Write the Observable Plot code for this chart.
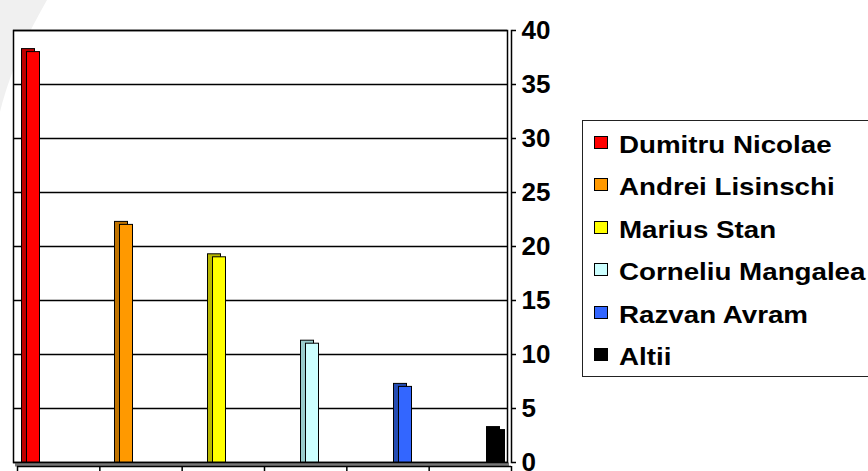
<!DOCTYPE html>
<html><head><meta charset="utf-8">
<script src="https://cdn.jsdelivr.net/npm/d3@7"></script>
<script src="https://cdn.jsdelivr.net/npm/@observablehq/plot@0.6"></script>
<style>
html,body{margin:0;padding:0;background:#fff;overflow:hidden;}
#wrap{position:relative;width:868px;height:471px;overflow:hidden;font-family:'Liberation Sans',Arial,sans-serif;}
#bg{position:absolute;left:0;top:0;width:120px;height:160px;background:#f0f0f0;clip-path:path('M0,0 L47,0 C30,30 12,65 0,112 Z');}
#legend{position:absolute;left:582px;top:120px;width:320px;height:257px;border:1.5px solid #222;background:#fff;box-sizing:border-box;padding-top:3px;}
.row{position:relative;height:42.4px;line-height:42.4px;font-size:24px;font-weight:bold;color:#000;white-space:nowrap;}
.sw{position:absolute;left:11px;top:12px;width:12px;height:11px;border:1px solid #000;}
.lbl{position:absolute;left:36px;top:0;display:inline-block;transform:scaleX(1.155);transform-origin:0 50%;}
</style></head>
<body>
<div id="wrap"><div id="bg"></div></div>
<script>
const names = ["Dumitru Nicolae","Andrei Lisinschi","Marius Stan","Corneliu Mangalea","Razvan Avram","Altii"];
const values = [38,22,19,11,7,3];
const colors = ["#ff0000","#ff9900","#ffff00","#ccffff","#3366ff","#000000"];
const sideColors = ["#c00000","#c07300","#b8b800","#99cccc","#264db3","#000000"];
const yTicks = [0,5,10,15,20,25,30,35,40];

const data = names.map((n,i)=>({name:n, value:values[i], color:colors[i], side:sideColors[i]}));
const font = "'Liberation Sans', Arial, sans-serif";

const main = Plot.plot({
  width: 868, height: 471,
  marginLeft: 13, marginRight: 361, marginTop: 30, marginBottom: 9,
  x: {domain: names, range: [-16.5, 542], padding: 0, axis: null},
  y: {domain: [0, 40], axis: null},
  style: {position:"absolute", left:"0px", top:"0px", background:"transparent", fontFamily: font, fontSize:"26px", fontWeight:"bold", color:"#000"},
  marks: [
    Plot.frame({fill:"#fff", stroke:null}),
    Plot.ruleY(yTicks, {stroke:"#000", strokeWidth:1.5}),
    Plot.ruleY([0], {stroke:"#777", strokeWidth:4, dy:2, dx:2}),
    Plot.ruleY([0], {stroke:"#000", strokeWidth:1.5, dy:4, dx:4}),
    Plot.frame({stroke:"#000", strokeWidth:1.5}),
    Plot.frame({anchor:"right", stroke:"#000", strokeWidth:1.5, dx:4}),
    Plot.barY(data, {x:"name", y:"value", fill:"side", stroke:"#000", strokeWidth:1, insetLeft:37.5, insetRight:42.5, insetBottom:-3, dy:-3}),
    Plot.barY(data, {x:"name", y:"value", fill:"color", stroke:"#000", strokeWidth:1, insetLeft:42.5, insetRight:37.5}),
    Plot.axisY({anchor:"right", ticks:yTicks, tickSize:4, tickPadding:6, dx:4, fontSize:26, fontWeight:"bold", stroke:"#000", strokeWidth:1.5, label:null})
  ]
});

const ticks = Plot.plot({
  width: 868, height: 471,
  marginLeft: 17, marginRight: 357, marginTop: 0, marginBottom: 5,
  x: {domain: [0, names.length]},
  y: {axis: null},
  style: {position:"absolute", left:"0px", top:"0px", background:"transparent"},
  marks: [
    Plot.axisX({anchor:"bottom", ticks: d3.range(names.length + 1), tickSize: 5, tickFormat: () => "", label: null, strokeWidth: 1.5})
  ]
});

const wrap = document.getElementById("wrap");
wrap.appendChild(main);
wrap.appendChild(ticks);

const legend = document.createElement("div");
legend.id = "legend";
names.forEach((n,i)=>{
  const row = document.createElement("div");
  row.className = "row";
  const sw = document.createElement("span");
  sw.className = "sw";
  sw.style.background = colors[i];
  const lbl = document.createElement("span");
  lbl.className = "lbl";
  lbl.textContent = n;
  row.appendChild(sw); row.appendChild(lbl);
  legend.appendChild(row);
});
wrap.appendChild(legend);
</script>
</body></html>
